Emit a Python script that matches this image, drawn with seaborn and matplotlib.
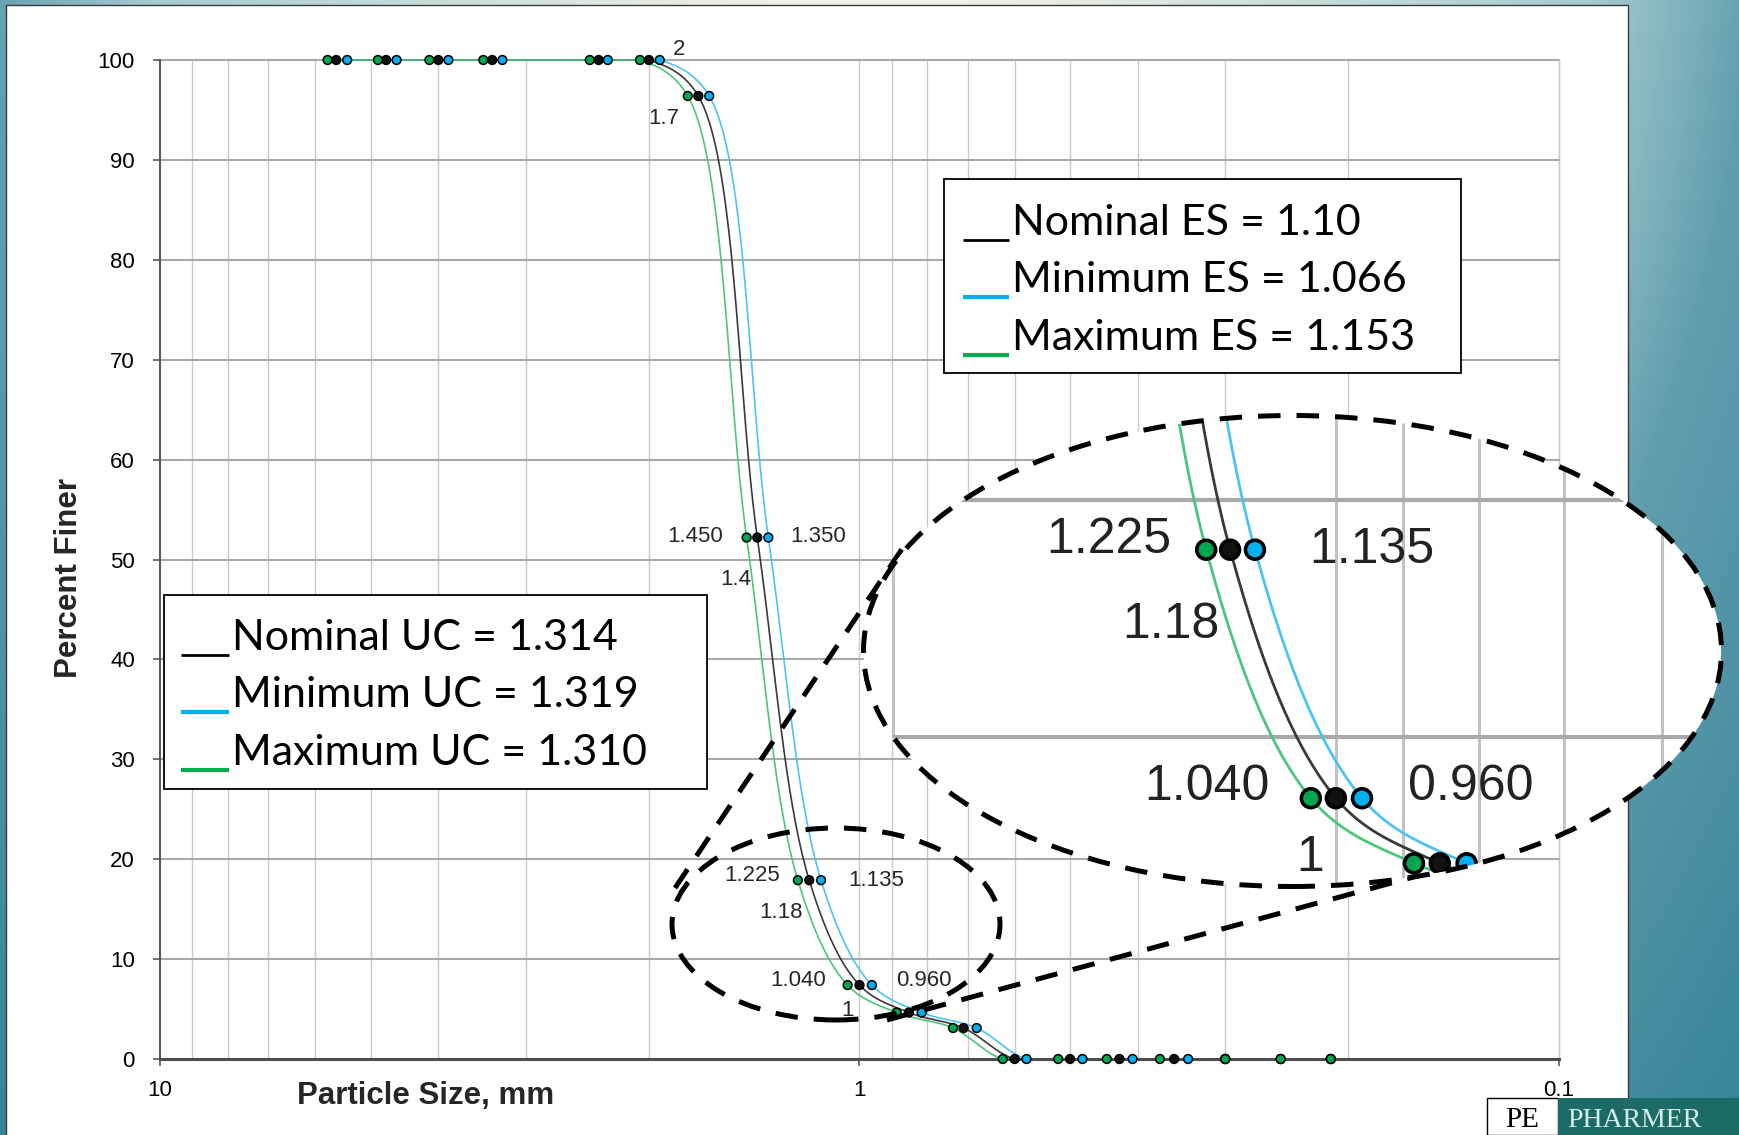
import numpy as np
import pandas as pd
import matplotlib
matplotlib.use("Agg")
import matplotlib.pyplot as plt
from matplotlib.patches import Ellipse, Rectangle
from matplotlib.lines import Line2D
from matplotlib.ticker import FixedLocator, FixedFormatter, NullLocator
import seaborn as sns

# ---------------------------------------------------------------- data
series_names = ["Minimum", "Nominal", "Maximum"]

nominal_size = [5.6, 4.75, 4.0, 3.35, 2.36, 2.0, 1.7, 1.4, 1.18, 1.0,
                0.85, 0.71, 0.6, 0.5, 0.425, 0.355, 0.3, 0.25, 0.212]
minimum_size = [5.40, 4.59, 3.87, 3.24, 2.29, 1.93, 1.64, 1.35, 1.135, 0.96,
                0.815, 0.68, 0.577, 0.48, 0.407, 0.339, 0.3, 0.25, 0.212]
maximum_size = [5.76, 4.88, 4.12, 3.45, 2.43, 2.06, 1.76, 1.45, 1.225, 1.04,
                0.885, 0.735, 0.624, 0.52, 0.443, 0.372, 0.3, 0.25, 0.212]
percent_finer = [100, 100, 100, 100, 100, 100, 96.4, 52.2, 17.9, 7.4,
                 4.65, 3.1, 0, 0, 0, 0, 0, 0, 0]

point_label_text = ["2", "1.7", "1.450", "1.350", "1.4", "1.225", "1.135",
                    "1.18", "1.040", "0.960", "1"]

es_legend = ["Nominal ES = 1.10", "Minimum ES = 1.066", "Maximum ES = 1.153"]
uc_legend = ["Nominal UC = 1.314", "Minimum UC = 1.319", "Maximum UC = 1.310"]

x_tick_values = [10, 1, 0.1]
x_tick_labels = ["10", "1", "0.1"]
y_tick_values = list(range(0, 101, 10))

x_title = "Particle Size, mm"
y_title = "Percent Finer"
logo_text = "PHARMER"

# ---------------------------------------------------------------- style
sns.set_theme(style="white")
plt.rcParams["font.family"] = ["Liberation Sans", "DejaVu Sans"]

line_colors = {"Minimum": "#4cc3f3", "Nominal": "#3a3a3a", "Maximum": "#4cc67a"}
marker_colors = {"Minimum": "#00b0f0", "Nominal": "#111111", "Maximum": "#00a650"}
legend_bar_colors = ["black", "#00b0f0", "#00b050"]
legend_bar_widths = [2.0, 3.0, 3.0]
dash = (0, (4.5, 3.2))

# label anchors in data units (size, percent)
label_pos = [(1.813, 101.1), (1.903, 94.1), (1.718, 52.3), (1.146, 52.3),
             (1.501, 48.0), (1.426, 18.33), (0.945, 17.9), (1.294, 14.7),
             (1.224, 7.88), (0.810, 7.88), (1.041, 4.87)]

W, H = 1740, 1135


def fx(px):
    return px / W


def fy(py):
    return 1 - py / H


def smooth(sizes, pct, n=40):
    """Centripetal Catmull-Rom curve through the sieve points (screen-like space)."""
    P = np.column_stack([np.log10(np.asarray(sizes, float)) * 630.5,
                         np.asarray(pct, float) * 9.0])
    P = np.vstack([2 * P[0] - P[1], P, 2 * P[-1] - P[-2]])
    out = []
    for i in range(1, len(P) - 2):
        p0, p1, p2, p3 = P[i - 1], P[i], P[i + 1], P[i + 2]
        t0 = 0.0
        t1 = t0 + np.linalg.norm(p1 - p0) ** 0.5
        t2 = t1 + np.linalg.norm(p2 - p1) ** 0.5
        t3 = t2 + np.linalg.norm(p3 - p2) ** 0.5
        t = np.linspace(t1, t2, n)[:, None]
        A1 = (t1 - t) / (t1 - t0) * p0 + (t - t0) / (t1 - t0) * p1
        A2 = (t2 - t) / (t2 - t1) * p1 + (t - t1) / (t2 - t1) * p2
        A3 = (t3 - t) / (t3 - t2) * p2 + (t - t2) / (t3 - t2) * p3
        B1 = (t2 - t) / (t2 - t0) * A1 + (t - t0) / (t2 - t0) * A2
        B2 = (t3 - t) / (t3 - t1) * A2 + (t - t1) / (t3 - t1) * A3
        C = (t2 - t) / (t2 - t1) * B1 + (t - t1) / (t2 - t1) * B2
        out.append(C if i == 1 else C[1:])
    C = np.vstack(out)
    return 10 ** (C[:, 0] / 630.5), np.clip(C[:, 1] / 9.0, 0, 100)


sizes = {"Minimum": minimum_size, "Nominal": nominal_size, "Maximum": maximum_size}
curve_frames, point_frames = [], []
for name in series_names:
    xs, ys = smooth(sizes[name], percent_finer)
    curve_frames.append(pd.DataFrame({"size": xs, "pct": ys, "series": name}))
    point_frames.append(pd.DataFrame({"size": sizes[name], "pct": percent_finer,
                                      "series": name}))
curves = pd.concat(curve_frames, ignore_index=True)
points = pd.concat(point_frames, ignore_index=True)


def draw_series(axis, line_w, marker_s, edge_w, clip_on):
    sns.lineplot(data=curves, x="size", y="pct", hue="series",
                 hue_order=series_names, palette=line_colors, sort=False,
                 estimator=None, lw=line_w, legend=False, ax=axis, zorder=2,
                 clip_on=clip_on)
    sns.scatterplot(data=points, x="size", y="pct", hue="series",
                    hue_order=series_names, palette=marker_colors, s=marker_s,
                    edgecolor="black", linewidth=edge_w, legend=False, ax=axis,
                    zorder=3, clip_on=clip_on)
    axis.set_xlabel("")
    axis.set_ylabel("")


fig = plt.figure(figsize=(W / 100, H / 100), dpi=100)

# ---------------------------------------------------------------- backdrop
bg = fig.add_axes([0, 0, 1, 1], zorder=-10)
yy, xx = np.mgrid[0:H:3, 0:W:3]
r = np.sqrt(((xx - 870) / 870) ** 2 + ((yy + 300) / 1435) ** 2)
tt = np.clip((r - 0.2) / 1.2, 0, 1)
stops = [0, 0.55, 0.7, 1.0]
cols = np.array([[0.95, 0.95, 0.90], [0.64, 0.79, 0.81],
                 [0.38, 0.62, 0.68], [0.22, 0.52, 0.60]])
img = np.dstack([np.interp(tt, stops, cols[:, k]) for k in range(3)])
bg.imshow(img, extent=[0, W, H, 0], aspect="auto", interpolation="bilinear")
bg.add_patch(Rectangle((6, 5), 1622, H, facecolor="white",
                       edgecolor="#3a3a3a", lw=1.0))
bg.set_xlim(0, W)
bg.set_ylim(H, 0)
bg.set_axis_off()

# ---------------------------------------------------------------- main chart
ax = fig.add_axes([fx(160), fy(1059), fx(1559) - fx(160), fy(60) - fy(1059)])
ax.set_xscale("log")
draw_series(ax, 1.2, 40, 1.1, False)
ax.set_xlim(10, 0.1)
ax.set_ylim(0, 100)

grid_x = [k * 10.0 ** e for e in (0, -1) for k in range(9, 0, -1)] + [0.1]
for g in grid_x:
    ax.axvline(g, color="#cacaca", lw=1.0, zorder=0.5, clip_on=False)
for g in range(10, 101, 10):
    ax.axhline(g, color="#a9a9a9", lw=1.5, zorder=0.6, clip_on=False)

for s in ("top", "right"):
    ax.spines[s].set_visible(False)
ax.spines["left"].set_color("#595959")
ax.spines["left"].set_linewidth(1.5)
ax.spines["bottom"].set_color("#4d4d4d")
ax.spines["bottom"].set_linewidth(2.2)

ax.xaxis.set_major_locator(FixedLocator(x_tick_values))
ax.xaxis.set_major_formatter(FixedFormatter(x_tick_labels))
ax.xaxis.set_minor_locator(NullLocator())
ax.yaxis.set_major_locator(FixedLocator(y_tick_values))
ax.tick_params(axis="both", which="major", direction="out", length=5,
               width=1.2, color="#595959", labelsize=16, labelcolor="black",
               left=True, bottom=True)
ax.tick_params(axis="x", pad=10)
ax.tick_params(axis="y", pad=13)

for txt, (px, py) in zip(point_label_text, label_pos):
    ax.text(px, py, txt, fontsize=16, ha="center", va="center", zorder=4,
            clip_on=False)

# ---------------------------------------------------------------- magnified view
zx_lim = (2.094, 0.547)
zy_lim = (3.67, 23.57)
axz = fig.add_axes([fx(863.5), fy(886.5), fx(1721.5) - fx(863.5),
                    fy(415.5) - fy(886.5)], zorder=4)
axz.set_xscale("log")
draw_series(axz, 2.0, 185, 2.6, True)
axz.set_xlim(*zx_lim)
axz.set_ylim(*zy_lim)
axz.set_axis_off()

clip = Ellipse((0.5, 0.5), 1, 1, transform=axz.transAxes, facecolor="white",
               edgecolor="none", zorder=0)
axz.add_patch(clip)
for g in [2, 1, 0.9, 0.8, 0.7, 0.6]:
    axz.axvline(g, color="#c2c2c2", lw=2.2, zorder=1)
for g in [10, 20]:
    axz.axhline(g, color="#a9a9a9", lw=3.0, zorder=1)
for txt, (px, py) in zip(point_label_text, label_pos):
    if zx_lim[1] < px < zx_lim[0] and zy_lim[0] < py < zy_lim[1]:
        axz.text(px, py, txt, fontsize=36, ha="center", va="center", zorder=5,
                 color="#222222", clip_on=True)
for art in list(axz.lines) + list(axz.collections) + list(axz.texts):
    art.set_clip_on(True)
    art.set_clip_path(clip)
axz.add_patch(Ellipse((0.5, 0.5), 1, 1, transform=axz.transAxes, fill=False,
                      edgecolor="black", lw=3.6, linestyle=dash, zorder=6,
                      clip_on=False))
axz.set_xlim(*zx_lim)
axz.set_ylim(*zy_lim)

# small ellipse and connectors
fig.add_artist(Ellipse((fx(836), fy(924)), 328 / W, 192 / H,
                       transform=fig.transFigure, fill=False, edgecolor="black",
                       lw=3.6, linestyle=dash, zorder=3))
fig.add_artist(Line2D([fx(675), fx(904)], [fy(888), fy(546)],
                      transform=fig.transFigure, color="black", lw=3.6,
                      linestyle=dash, zorder=3))
fig.add_artist(Line2D([fx(887), fx(1465)], [fy(1020), fy(863)],
                      transform=fig.transFigure, color="black", lw=3.6,
                      linestyle=dash, zorder=3))


# ---------------------------------------------------------------- text boxes
def legend_box(x0, y0, x1, y1, labels, bar_x, text_x, baselines):
    fig.add_artist(Rectangle((fx(x0), fy(y1)), (x1 - x0) / W, (y1 - y0) / H,
                             transform=fig.transFigure, facecolor="white",
                             edgecolor="black", lw=1.3, zorder=3))
    for lab, col, bw, base in zip(labels, legend_bar_colors, legend_bar_widths,
                                  baselines):
        fig.add_artist(Line2D([fx(bar_x), fx(text_x - 3)],
                              [fy(base + 5), fy(base + 5)],
                              transform=fig.transFigure, color=col, lw=bw,
                              solid_capstyle="butt", zorder=4))
        fig.text(fx(text_x), fy(base), lab, color="black", fontsize=31,
                 family="Lato", va="baseline", zorder=4)


legend_box(944, 179, 1461, 373, es_legend, 963, 1012, [235, 292, 350])
legend_box(164, 595, 707, 789, uc_legend, 181, 232, [650, 707, 765])

# axis titles
fig.text(fx(426), fy(1096), x_title, fontsize=22.5, weight="bold",
         ha="center", va="center")
fig.text(fx(69), fy(578), y_title, fontsize=22.5, weight="bold", rotation=90,
         ha="center", va="center")

# corner logo
fig.add_artist(Rectangle((fx(1487), 0), (1558 - 1487) / W, 37 / H,
                         transform=fig.transFigure, facecolor="white",
                         edgecolor="black", lw=1.0, zorder=3))
fig.add_artist(Rectangle((fx(1558), 0), (1740 - 1558) / W, 37 / H,
                         transform=fig.transFigure, facecolor="#1d6b66",
                         edgecolor="none", zorder=3))
fig.text(fx(1522), fy(1127), "PE", family="Liberation Serif", fontsize=21,
         color="black", ha="center", va="baseline", zorder=4)
fig.text(fx(1567), fy(1127), logo_text, family="Liberation Serif",
         fontsize=20, color="#d5ece8", va="baseline", zorder=4)

fig.savefig("out.png", dpi=100)
